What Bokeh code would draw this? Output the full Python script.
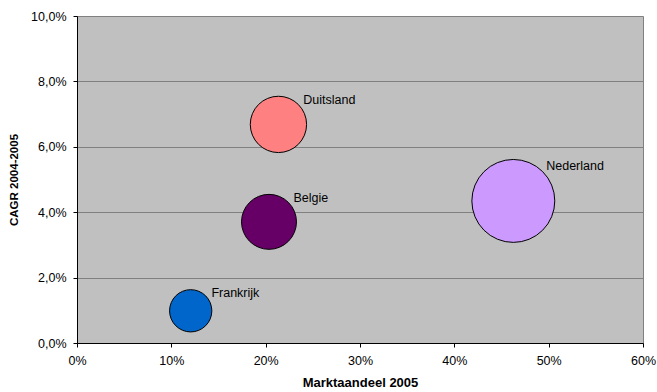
import numpy as np
from bokeh.plotting import figure
from bokeh.models import ColumnDataSource, Range1d, FixedTicker
from bokeh.core.properties import value
from bokeh.embed import file_html
from bokeh.resources import INLINE

# Market data per country
countries = ["Frankrijk", "Belgie", "Duitsland", "Nederland"]
market_share = [12.0, 20.3, 21.3, 46.2]      # Marktaandeel 2005, %
cagr = [1.0, 3.72, 6.70, 4.36]               # CAGR 2004-2005, %
bubble_value = [12.0, 20.3, 21.3, 46.2]      # bubble size = market share
colors = ["#0066CC", "#660066", "#FF8080", "#CC99FF"]

x_ticks = [0, 10, 20, 30, 40, 50, 60]
x_tick_labels = ["0%", "10%", "20%", "30%", "40%", "50%", "60%"]
y_ticks = [0, 2, 4, 6, 8, 10]
y_tick_labels = ["0,0%", "2,0%", "4,0%", "6,0%", "8,0%", "10,0%"]

FONT = "Liberation Sans"

# bubble area proportional to the size value
diam = 12.2 * np.sqrt(np.array(bubble_value))
rad = diam / 2.0

src = ColumnDataSource(dict(
    x=market_share, y=cagr, name=countries, color=colors,
    size=diam, lx=0.6 * rad + 8, ly=-0.85 * rad,
))

p = figure(width=657, height=392, output_backend="svg", toolbar_location=None,
           x_range=Range1d(0, 60), y_range=Range1d(0, 10),
           min_border_left=77, min_border_right=14,
           min_border_top=16, min_border_bottom=49)

p.background_fill_color = "#C0C0C0"
p.border_fill_color = "white"
p.outline_line_color = "#808080"
p.outline_line_width = 1

p.xgrid.grid_line_color = None
p.ygrid.grid_line_color = "#808080"
p.ygrid.grid_line_width = 1

for ax in (p.xaxis, p.yaxis):
    ax.axis_line_color = "black"
    ax.axis_line_width = 1
    ax.major_tick_line_color = "black"
    ax.major_tick_out = 4
    ax.major_tick_in = 0
    ax.minor_tick_line_color = None
    ax.major_label_text_font = FONT
    ax.major_label_text_font_size = "12.5px"
    ax.major_label_text_color = "black"
    ax.axis_label_text_font = FONT
    ax.axis_label_text_font_style = "bold"
    ax.axis_label_text_color = "black"

p.xaxis.ticker = FixedTicker(ticks=x_ticks)
p.xaxis.major_label_overrides = dict(zip(x_ticks, x_tick_labels))
p.yaxis.ticker = FixedTicker(ticks=y_ticks)
p.yaxis.major_label_overrides = dict(zip(y_ticks, y_tick_labels))

p.xaxis.axis_label = "Marktaandeel 2005"
p.xaxis.axis_label_text_font_size = "13px"
p.xaxis.major_label_standoff = 6
p.xaxis.axis_label_standoff = 4

p.yaxis.axis_label = "CAGR 2004-2005"
p.yaxis.axis_label_text_font_size = "11.5px"
p.yaxis.major_label_standoff = 7
p.yaxis.axis_label_standoff = 8

p.scatter("x", "y", source=src, size="size", fill_color="color",
          line_color="black", line_width=1)

p.text("x", "y", text="name", source=src, x_offset="lx", y_offset="ly",
       text_font=value(FONT), text_font_size="12.5px", text_color="black",
       text_align="left", text_baseline="middle")

open("out.html", "w").write(file_html(p, INLINE))
